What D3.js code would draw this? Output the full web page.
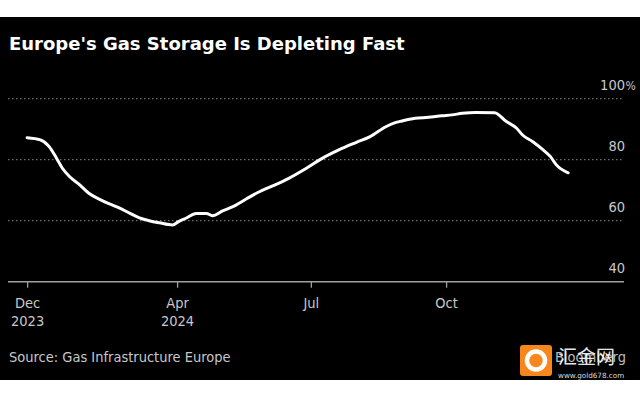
<!DOCTYPE html>
<html><head><meta charset="utf-8">
<script src="https://cdn.jsdelivr.net/npm/d3@7"></script>
<style>
html,body{margin:0;padding:0;background:#fff;}
svg{display:block;}
</style></head>
<body>
<script>
// ---- data ----
const dates = ["2023-12-21","2023-12-30","2024-01-05","2024-01-10","2024-01-14","2024-01-19","2024-01-26","2024-02-01","2024-02-08","2024-02-15","2024-02-22","2024-02-29","2024-03-06","2024-03-13","2024-03-20","2024-03-29","2024-04-02","2024-04-07","2024-04-14","2024-04-21","2024-04-25","2024-05-02","2024-05-09","2024-05-18","2024-05-27","2024-06-05","2024-06-16","2024-06-28","2024-07-09","2024-07-20","2024-08-01","2024-08-10","2024-08-21","2024-08-26","2024-09-01","2024-09-10","2024-09-19","2024-09-28","2024-10-05","2024-10-12","2024-10-21","2024-11-03","2024-11-11","2024-11-18","2024-11-22","2024-11-29","2024-12-06","2024-12-11","2024-12-15","2024-12-23"];
const storage = [87.2,86.5,84.3,80.5,77.2,74.4,71.7,69.0,67.1,65.5,64.1,62.4,61.0,60.0,59.3,58.6,59.7,60.8,62.4,62.4,61.6,63.2,64.6,67.1,69.5,71.4,73.9,77.2,80.5,83.2,85.7,87.5,90.8,91.9,92.7,93.6,93.9,94.4,94.7,95.2,95.5,95.4,92.5,90.3,88.1,85.9,83.2,81.0,78.3,75.7];
const xTickDates = ["2023-12-21","2024-04-01","2024-07-01","2024-10-01"];
const xTickLabels = [["Dec","2023"],["Apr","2024"],["Jul",""],["Oct",""]];
const yTicks = [40,60,80,100];
const yTickLabels = ["40","60","80","100"];
const title = "Europe's Gas Storage Is Depleting Fast";
const source = "Source: Gas Infrastructure Europe";

const W = 640, H = 400;
const parse = d3.timeParse("%Y-%m-%d");
const data = dates.map((d,i)=>({date:parse(d), v:storage[i]}));

const svg = d3.select("body").append("svg").attr("width",W).attr("height",H);
svg.append("rect").attr("x",0).attr("y",17).attr("width",W).attr("height",363).attr("fill","#000");

const x = d3.scaleTime().domain([parse("2023-12-08"), parse("2025-01-30")]).range([8,624]);
const y = d3.scaleLinear().domain([40,100]).range([281.7,98.7]);

const font = "'Liberation Sans Narrow','DejaVu Sans Condensed',sans-serif";

// title
svg.append("text").attr("x",9).attr("y",50).text(title)
  .attr("fill","#fff").attr("font-family","'DejaVu Sans',sans-serif").attr("font-weight","bold").attr("font-size",18);

// gridlines
svg.append("g").selectAll("line").data(yTicks.filter(t=>t>40)).join("line")
  .attr("x1",8).attr("x2",624).attr("y1",d=>y(d)).attr("y2",d=>y(d))
  .attr("stroke","#8a8a8a").attr("stroke-width",1).attr("stroke-dasharray","1.5,2.5");

// y labels
const yl = svg.append("g").attr("font-family",font).attr("font-size",14.5).attr("fill","#c8c8c8");
yl.selectAll("text").data(yTicks).join("text")
  .attr("x",625).attr("y",d=>y(d)-9.2).attr("text-anchor","end").text((d,i)=>yTickLabels[i]);
yl.append("text").attr("x",625.5).attr("y",y(100)-9.2).attr("font-size",12).text("%");

// x axis
const xAxis = d3.axisBottom(x).tickValues(xTickDates.map(parse)).tickSize(6).tickFormat("");
const gx = svg.append("g").attr("transform","translate(0,281.7)").call(xAxis);
gx.select(".domain").attr("stroke","#a0a0a0").attr("stroke-width",1.6).attr("d","M8,0H624");
gx.selectAll(".tick line").attr("stroke","#a0a0a0").attr("stroke-width",1.3);
gx.selectAll(".tick").each(function(d,i){
  const g = d3.select(this);
  g.append("text").attr("y",26.5).attr("text-anchor","middle").attr("fill","#c8c8c8")
    .attr("font-family",font).attr("font-size",14.5).text(xTickLabels[i][0]);
  if (xTickLabels[i][1]) g.append("text").attr("y",44.5).attr("text-anchor","middle").attr("fill","#c8c8c8")
    .attr("font-family",font).attr("font-size",14.5).text(xTickLabels[i][1]);
});

// line
const line = d3.line().x(d=>x(d.date)).y(d=>y(d.v)).curve(d3.curveMonotoneX);
svg.append("path").datum(data).attr("d",line).attr("fill","none")
  .attr("stroke","#fff").attr("stroke-width",3).attr("stroke-linejoin","round").attr("stroke-linecap","round");

// source
svg.append("text").attr("x",9).attr("y",362).text(source)
  .attr("fill","#c8c8c8").attr("font-family",font).attr("font-size",14.5);

// watermark
svg.append("text").attr("x",626).attr("y",362).attr("text-anchor","end").text("Bloomberg")
  .attr("fill","#bbb").attr("font-family",font).attr("font-size",14.5);
svg.append("rect").attr("x",520).attr("y",345).attr("width",32).attr("height",31).attr("rx",3).attr("fill","#f7861d");
svg.append("circle").attr("cx",536).attr("cy",360.5).attr("r",9).attr("fill","none").attr("stroke","#fff").attr("stroke-width",4.5);
svg.append("text").attr("x",558).attr("y",364).text("汇金网")
  .attr("fill","#fff").attr("font-family","'Noto Sans CJK SC',sans-serif").attr("font-size",19).attr("opacity",0.9);
svg.append("text").attr("x",558).attr("y",378).text("www.gold678.com")
  .attr("fill","#ddd").attr("font-family","'DejaVu Sans',sans-serif").attr("font-size",7.2);
</script>
</body></html>
